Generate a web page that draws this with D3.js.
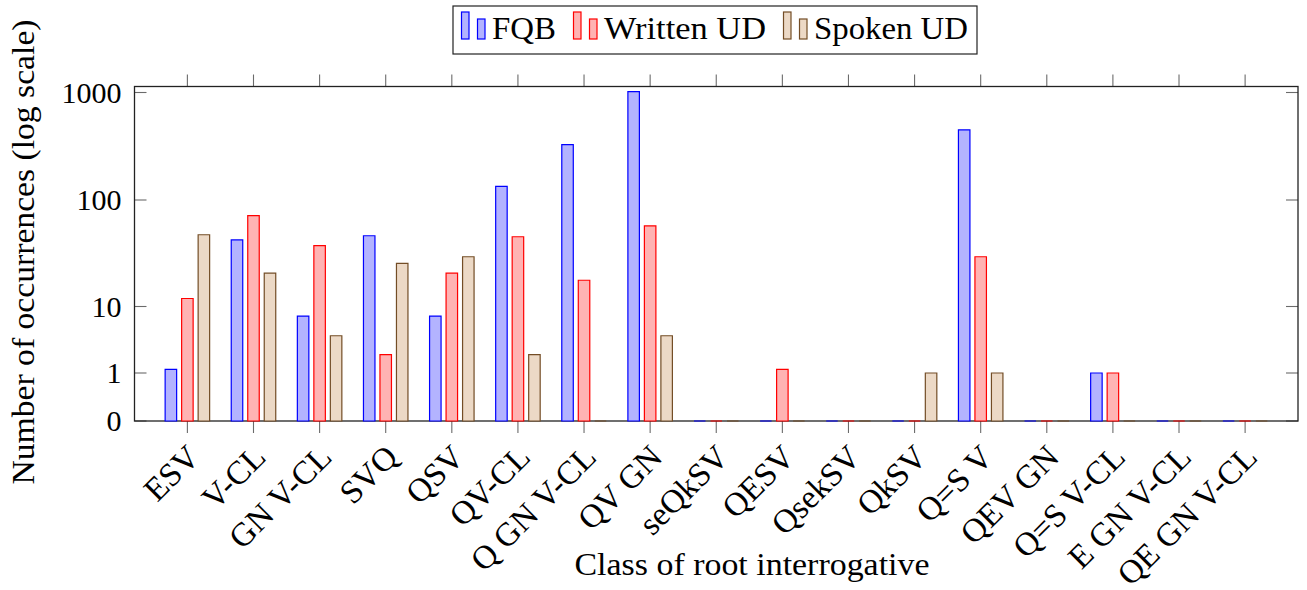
<!DOCTYPE html>
<html>
<head>
<meta charset="utf-8">
<script src="https://cdn.jsdelivr.net/npm/d3@7"></script>
<style>
  body { margin: 0; background: #fff; }
  text { font-family: "Liberation Serif", "DejaVu Serif", serif; fill: #000; }
</style>
</head>
<body>
<div id="chart"></div>
<script>
// data
const categories = ["ESV", "V-CL", "GN V-CL", "SVQ", "QSV", "QV-CL", "Q GN V-CL", "QV GN", "seQkSV", "QESV",
  "QsekSV", "QkSV", "Q=S V", "QEV GN", "Q=S V-CL", "E GN V-CL", "QE GN V-CL"];
const fqb       = [1.2, 43, 7.6, 47, 7.6, 134, 328, 1020, 0, 0, 0, 0, 450, 0, 1, 0, 0];
const writtenUD = [12, 72, 38, 2.2, 21, 46, 18, 58, 0, 1.2, 0, 0, 30, 0, 1, 0, 0];
const spokenUD  = [48, 21, 4.2, 26, 30, 2.2, 0, 4.2, 0, 0, 0, 1, 1, 0, 0, 0, 0];
const seriesNames = ["FQB", "Written UD", "Spoken UD"];
const yTicks = [0, 1, 10, 100, 1000];

const W = 1307, H = 590;
const plotL = 134.5, plotR = 1298, plotT = 86.5, plotB = 421;

const styles = [
  {stroke: "#0000ff", fill: "#b3b3ff"},
  {stroke: "#ff0000", fill: "#ffb3b3"},
  {stroke: "#734d26", fill: "#ecd9c6"}
];
const series = [fqb, writtenUD, spokenUD];

const svg = d3.select("#chart").append("svg")
  .attr("width", W).attr("height", H);

svg.append("rect").attr("width", W).attr("height", H).attr("fill", "white");

const x = d3.scalePoint().domain(categories).range([plotL, plotR]).padding(0.8);

// axis is a hand-made log scale: tick rows are not evenly spaced, so map piecewise
const tickRows = [plotB, 373, 306.5, 200, 92.5];
const y = d3.scaleLinear().domain(yTicks.map(v => Math.log10(1 + v))).range(tickRows);
const yv = v => y(Math.log10(1 + v));

const barW = 11.5, shift = 16.5;

// ticks
const tickColor = "#6b6b6b";
svg.append("g").selectAll("line").data(categories).join("line")
  .attr("x1", d => x(d)).attr("x2", d => x(d))
  .attr("y1", plotB).attr("y2", plotB + 12)
  .attr("stroke", tickColor).attr("stroke-width", 1.1);
svg.append("g").selectAll("line").data(categories).join("line")
  .attr("x1", d => x(d)).attr("x2", d => x(d))
  .attr("y1", plotT).attr("y2", plotT - 12)
  .attr("stroke", tickColor).attr("stroke-width", 1.1);
svg.append("g").selectAll("line").data(yTicks).join("line")
  .attr("x1", plotL).attr("x2", plotL + 12)
  .attr("y1", d => yv(d)).attr("y2", d => yv(d))
  .attr("stroke", tickColor).attr("stroke-width", 1.1);
svg.append("g").selectAll("line").data(yTicks).join("line")
  .attr("x1", plotR).attr("x2", plotR - 12)
  .attr("y1", d => yv(d)).attr("y2", d => yv(d))
  .attr("stroke", tickColor).attr("stroke-width", 1.1);

// axis box
svg.append("rect")
  .attr("x", plotL).attr("y", plotT)
  .attr("width", plotR - plotL).attr("height", plotB - plotT)
  .attr("fill", "none").attr("stroke", "#222").attr("stroke-width", 1.3);

// bars (paths so zero-height bars still show their outline)
series.forEach((vals, s) => {
  svg.append("g").selectAll("path").data(vals).join("path")
    .attr("d", (v, i) => {
      const x0 = x(categories[i]) + (s - 1) * shift - barW / 2;
      const y1 = yv(v);
      return `M${x0},${plotB}V${y1}H${x0 + barW}V${plotB}Z`;
    })
    .attr("fill", styles[s].fill)
    .attr("stroke", styles[s].stroke)
    .attr("stroke-width", 1.2);
});

// y tick labels
svg.append("g").selectAll("text").data(yTicks).join("text")
  .attr("x", plotL - 13).attr("y", d => yv(d))
  .attr("dy", "0.34em")
  .attr("text-anchor", "end")
  .style("font-size", "30px")
  .text(d => d);

// x tick labels, rotated
svg.append("g").selectAll("text").data(categories).join("text")
  .attr("transform", d => `translate(${x(d) + 14},${plotB + 38}) rotate(-45)`)
  .attr("text-anchor", "end")
  .style("font-size", "33px")
  .text(d => d);

// axis titles
svg.append("text")
  .attr("x", 752).attr("y", 575)
  .attr("text-anchor", "middle")
  .style("font-size", "31px")
  .attr("textLength", 355).attr("lengthAdjust", "spacingAndGlyphs")
  .text("Class of root interrogative");

svg.append("text")
  .attr("transform", "translate(34,252) rotate(-90)")
  .attr("text-anchor", "middle")
  .style("font-size", "31px")
  .attr("textLength", 465).attr("lengthAdjust", "spacingAndGlyphs")
  .text("Number of occurrences (log scale)");

// legend
const legendWidths = [64, 162, 154];
const legend = svg.append("g");
let cursor = 461.5;
seriesNames.forEach((name, s) => {
  legend.append("rect").attr("x", cursor).attr("y", 12).attr("width", 7.5).attr("height", 27)
    .attr("fill", styles[s].fill).attr("stroke", styles[s].stroke).attr("stroke-width", 1.2);
  legend.append("rect").attr("x", cursor + 16).attr("y", 19).attr("width", 7.5).attr("height", 20)
    .attr("fill", styles[s].fill).attr("stroke", styles[s].stroke).attr("stroke-width", 1.2);
  legend.append("text")
    .attr("x", cursor + 30.5).attr("y", 39)
    .style("font-size", "31px")
    .attr("textLength", legendWidths[s]).attr("lengthAdjust", "spacingAndGlyphs")
    .text(name);
  cursor += 30.5 + legendWidths[s] + 17.5;
});
legend.insert("rect", ":first-child")
  .attr("x", 453).attr("y", 6)
  .attr("width", cursor - 453 - 8.5).attr("height", 48)
  .attr("fill", "white").attr("stroke", "#222").attr("stroke-width", 1.2);
</script>
</body>
</html>
